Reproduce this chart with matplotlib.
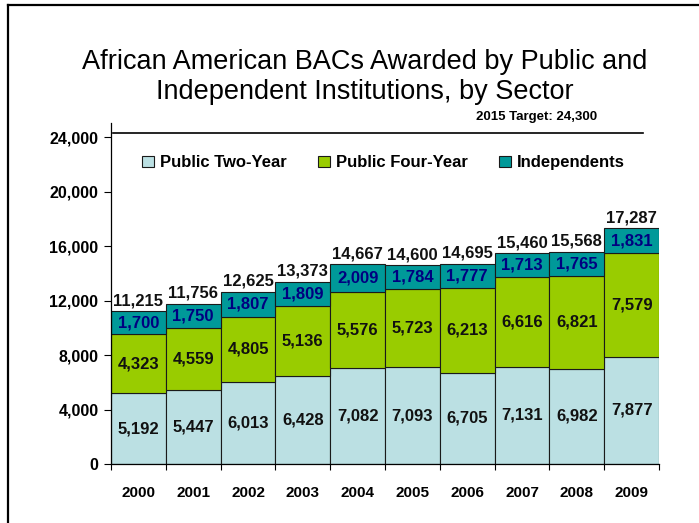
import matplotlib
matplotlib.use("Agg")
import matplotlib.pyplot as plt
from matplotlib.lines import Line2D
import numpy as np

plt.rcParams['font.family'] = ['Liberation Sans', 'DejaVu Sans']

years = ["2000", "2001", "2002", "2003", "2004", "2005", "2006", "2007", "2008", "2009"]
public_two_year = [5192, 5447, 6013, 6428, 7082, 7093, 6705, 7131, 6982, 7877]
public_four_year = [4323, 4559, 4805, 5136, 5576, 5723, 6213, 6616, 6821, 7579]
independents = [1700, 1750, 1807, 1809, 2009, 1784, 1777, 1713, 1765, 1831]
totals = [11215, 11756, 12625, 13373, 14667, 14600, 14695, 15460, 15568, 17287]
target_2015 = 24300
series_names = ["Public Two-Year", "Public Four-Year", "Independents"]
yticks = [0, 4000, 8000, 12000, 16000, 20000, 24000]

c_two = "#BBE0E3"
c_four = "#99CC00"
c_ind = "#009999"
edge = "#1a1a1a"

W, H = 699, 523
fig = plt.figure(figsize=(W / 100, H / 100), dpi=100)
ax = fig.add_axes([111 / W, 1 - 464 / H, 548 / W, (464 - 123.4) / H])

x = np.arange(len(years))
two = np.array(public_two_year)
four = np.array(public_four_year)
ind = np.array(independents)

b1 = ax.bar(x, two, width=1.0, color=c_two, edgecolor=edge, linewidth=0.8, label=series_names[0])
b2 = ax.bar(x, four, width=1.0, bottom=two, color=c_four, edgecolor=edge, linewidth=0.8, label=series_names[1])
b3 = ax.bar(x, ind, width=1.0, bottom=two + four, color=c_ind, edgecolor=edge, linewidth=0.8, label=series_names[2])

lab_kw = dict(ha="center", va="center", fontsize=12, fontweight="bold")
for i in range(len(years)):
    ax.text(x[i], two[i] / 2, f"{two[i]:,}", color="#111111", **lab_kw)
    ax.text(x[i], two[i] + four[i] / 2, f"{four[i]:,}", color="#111111", **lab_kw)
    ax.text(x[i], two[i] + four[i] + ind[i] / 2, f"{ind[i]:,}", color="#000080", **lab_kw)
    ax.text(x[i], totals[i] + 220, f"{totals[i]:,}", ha="center", va="bottom",
            fontsize=12, fontweight="bold", color="#111111")

# 2015 target line
ax.plot([-0.47, 9.2], [target_2015, target_2015], color="black", linewidth=1.2, clip_on=False)
ax.text(8.37, 25470, f"2015 Target: {target_2015:,}", ha="right", va="center",
        fontsize=9.5, fontweight="bold", clip_on=False)

ax.set_xlim(-0.5, 9.5)
ax.set_ylim(0, 25000)
ax.set_yticks(yticks)
ax.set_yticklabels([f"{v:,}" for v in yticks], fontsize=11.5, fontweight="bold")
ax.set_xticks(x)
ax.set_xticklabels(years, fontsize=11, fontweight="bold")
ax.set_xticks(np.arange(-0.5, 10, 1.0), minor=True)
ax.tick_params(axis="x", which="major", length=0, pad=16)
ax.tick_params(axis="x", which="minor", length=4, direction="out", width=0.8)
ax.tick_params(axis="y", length=5, width=0.8, direction="out", pad=4)

for s in ["top", "right"]:
    ax.spines[s].set_visible(False)
ax.spines["left"].set_linewidth(0.9)
ax.spines["bottom"].set_linewidth(0.9)

leg = ax.legend(handles=[b1, b2, b3], labels=series_names, loc="center",
                bbox_to_anchor=(0.497, 0.884), ncol=3, frameon=False,
                prop=dict(weight="bold", size=12), handlelength=0.7, handleheight=0.7,
                handletextpad=0.35, columnspacing=1.9)

fig.text(365 / W, 1 - 77 / H, "African American BACs Awarded by Public and\nIndependent Institutions, by Sector",
         ha="center", va="center", fontsize=19.5, linespacing=1.22)

# Outer frame (left and top edges)
fig.add_artist(Line2D([8 / W, 8 / W], [0, 1 - 5 / H], color="black", linewidth=1.6,
                      transform=fig.transFigure))
fig.add_artist(Line2D([8 / W, 1], [1 - 5 / H, 1 - 5 / H], color="black", linewidth=1.6,
                      transform=fig.transFigure))

fig.savefig("out.png", dpi=100)
